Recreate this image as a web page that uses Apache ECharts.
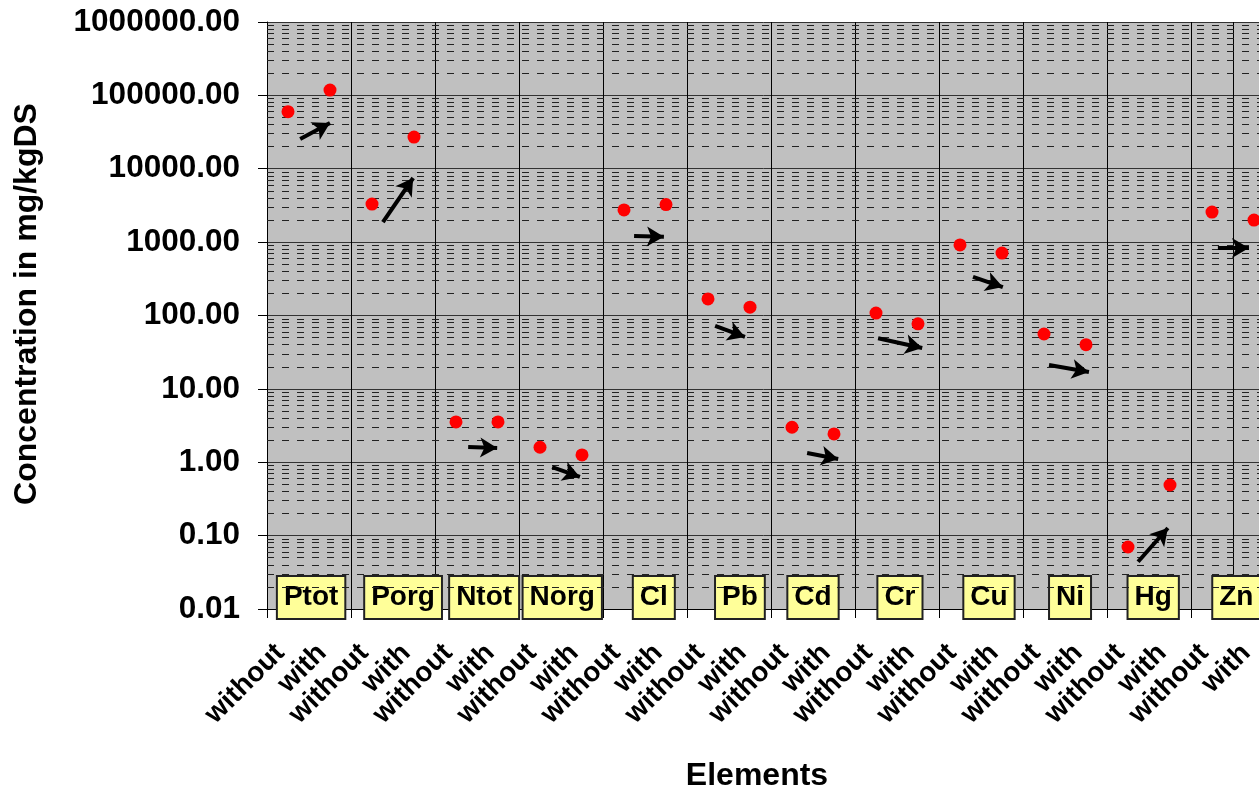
<!DOCTYPE html>
<html><head><meta charset="utf-8">
<script src="https://cdn.jsdelivr.net/npm/echarts@6/dist/echarts.min.js"></script>
<style>html,body{margin:0;padding:0;background:#fff}#c{width:1259px;height:790px}</style>
</head><body><div id="c"></div>
<script>
// ---- data ----
const elements = ['Ptot','Porg','Ntot','Norg','Cl','Pb','Cd','Cr','Cu','Ni','Hg','Zn'];
const conditions = ['without','with'];
const withoutValues = [60000, 3300, 3.55, 1.6, 2750, 168, 3.0, 108, 915, 56, 0.07, 2570];
const withValues = [118000, 27000, 3.55, 1.26, 3250, 130, 2.43, 77, 710, 40, 0.49, 2000];
// arrow annotations (x in category units from the left edge, y in mg/kgDS)
const arrowStart = [[0.79,25400],[2.76,1880],[4.79,1.61],[6.79,0.86],[8.74,1210],[10.67,72],[12.86,1.34],[14.55,49],[16.81,335],[18.62,21.2],[20.74,0.044],[22.64,830]];
const arrowEnd = [[1.5,42000],[3.48,7480],[5.48,1.56],[7.45,0.63],[9.45,1180],[11.38,51],[13.6,1.11],[15.6,36],[17.52,244],[19.57,17],[21.45,0.127],[23.38,830]];
// element name boxes (x in category units)
const labelX = [1.05,3.24,5.17,7.03,9.21,11.26,13.0,15.07,17.19,19.12,21.1,23.08];
const labelY = 0.0143;
const yTicks = [0.01,0.1,1,10,100,1000,10000,100000,1000000];

// ---- build ----
const FONT = '"Liberation Sans", Arial, sans-serif';
const categories = [];
const pointData = [];
elements.forEach((e,i)=>{
  categories.push(conditions[0], conditions[1]);
  pointData.push(withoutValues[i], withValues[i]);
});
const minorLines = [];
for (let n = -2; n < 6; n++) for (let k = 2; k < 10; k++) minorLines.push({yAxis: k*Math.pow(10,n)});
const arrows = arrowStart.map((s,i)=>[{coord:s},{coord:arrowEnd[i]}]);

const chart = echarts.init(document.getElementById('c'));
chart.setOption({
  animation:false,
  grid:{left:267, top:22, width:1008, height:587, outerBoundsMode:'none', containLabel:false, show:true, backgroundColor:'#c0c0c0', borderWidth:0},
  xAxis:[
    {type:'category', data:categories, boundaryGap:true,
     axisLine:{show:true, lineStyle:{color:'#000', width:1}},
     axisTick:{show:true, interval:1, length:9, lineStyle:{color:'#000', width:1}},
     splitLine:{show:true, interval:1, lineStyle:{color:'#000', width:1}},
     axisLabel:{interval:0, rotate:45, fontSize:28, fontWeight:'bold', color:'#000', fontFamily:FONT, margin:32, padding:[0,11,0,0]}},
    {type:'value', min:0, max:24, show:false}
  ],
  yAxis:{type:'log', logBase:10, min:yTicks[0], max:yTicks[yTicks.length-1],
    axisLine:{show:true, lineStyle:{color:'#000', width:1}},
    axisTick:{show:true, length:9, lineStyle:{color:'#000'}},
    splitLine:{show:true, lineStyle:{color:'#333', width:1}},
    axisLabel:{formatter:v=>Number(v).toFixed(2), fontSize:31.5, fontWeight:'bold', color:'#000', fontFamily:FONT, margin:27}},
  graphic:[
    {type:'text', x:757, y:776, style:{text:'Elements', fontSize:32, fontWeight:'bold', fontFamily:FONT, fill:'#000', align:'center', verticalAlign:'middle'}},
    {type:'text', x:27, y:304, rotation:Math.PI/2, style:{text:'Concentration in mg/kgDS', fontSize:32, fontWeight:'bold', fontFamily:FONT, fill:'#000', align:'center', verticalAlign:'middle'}}
  ],
  series:[
    {type:'line', data:[], silent:true, z:1,
     markLine:{silent:true, symbol:['none','none'], label:{show:false}, animation:false,
       lineStyle:{type:[7,8], color:'#222', width:1, opacity:1}, emphasis:{disabled:true}, data:minorLines}},
    {type:'scatter', xAxisIndex:1, data:[], silent:true, z:3,
     markLine:{silent:true, symbol:['none','arrow'], symbolSize:[15,17], label:{show:false}, animation:false,
       lineStyle:{type:'solid', color:'#000', width:4, opacity:1}, itemStyle:{color:'#000', opacity:1}, emphasis:{disabled:true}, data:arrows}},
    {type:'scatter', xAxisIndex:1, silent:true, z:4, symbolSize:1, itemStyle:{color:'rgba(0,0,0,0)', opacity:1},
     data:elements.map((e,i)=>({name:e, value:[labelX[i], labelY]})),
     label:{show:true, position:'inside', formatter:p=>p.name, fontSize:28, fontWeight:'bold', fontFamily:FONT, color:'#000', opacity:1,
       backgroundColor:'#ffff99', borderColor:'#222', borderWidth:2, padding:[6,6,6,6], lineHeight:29}},
    {type:'scatter', data:pointData, symbol:'circle', symbolSize:13, z:5, itemStyle:{color:'#ff0000', opacity:1}}
  ]
});
</script></body></html>
